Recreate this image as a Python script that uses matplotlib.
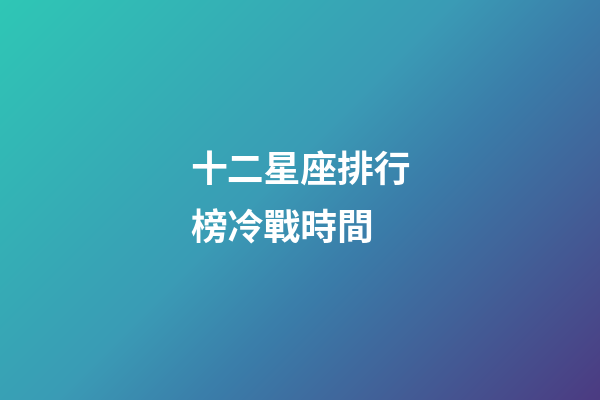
import numpy as np
import matplotlib.pyplot as plt
from matplotlib.colors import LinearSegmentedColormap

plt.rcParams['font.family'] = ['Noto Sans CJK TC', 'DejaVu Sans']

# text lines and background gradient stops
lines = ["十二星座排行", "榜冷戰時間"]
grad_pos = [0.0, 0.45, 0.6, 1.0]
grad_colors = ["#2fc7b5", "#3a9cb6", "#3a7eaa", "#4c3b82"]

W, H = 600, 400
fig = plt.figure(figsize=(6, 4), dpi=100)
ax = fig.add_axes([0, 0, 1, 1])
ax.set_axis_off()

xx, yy = np.meshgrid(np.arange(W), np.arange(H))
t = (xx + yy) / (W + H)
cmap = LinearSegmentedColormap.from_list("bg", list(zip(grad_pos, grad_colors)))
ax.imshow(t, cmap=cmap, vmin=0, vmax=1, extent=[0, W, H, 0], aspect='auto')
ax.set_xlim(0, W)
ax.set_ylim(H, 0)

ys = [172, 230]
for s, y in zip(lines, ys):
    ax.text(190, y, s, color='white', fontsize=26.5, fontweight='bold',
            ha='left', va='center')

fig.savefig('out.png', dpi=100)
